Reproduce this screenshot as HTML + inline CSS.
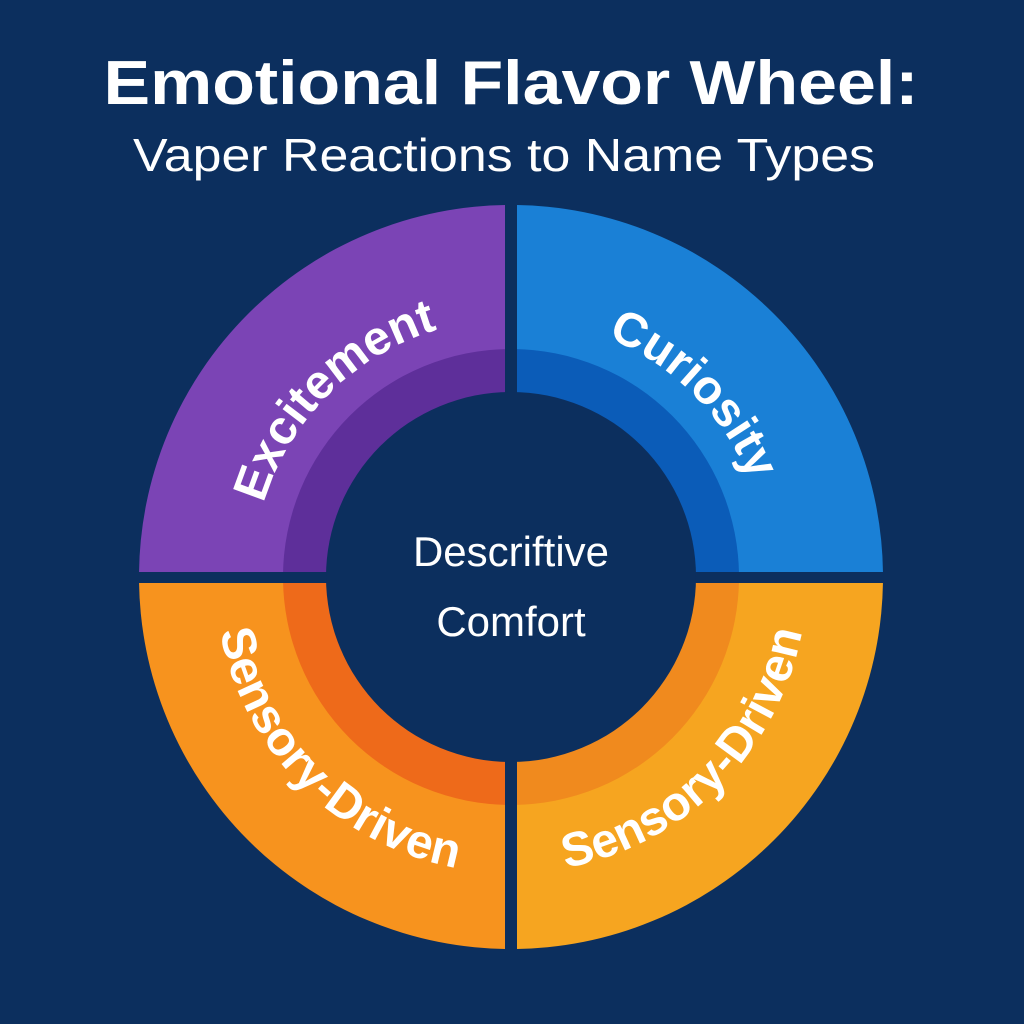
<!DOCTYPE html>
<html><head><meta charset="utf-8"><style>
html,body{margin:0;padding:0;background:#0c2f5e;}
svg{display:block}
</style></head><body>
<svg width="1024" height="1024" viewBox="0 0 1024 1024" xmlns="http://www.w3.org/2000/svg">
<rect width="1024" height="1024" fill="#0c2f5e"/>
<text x="511" y="104" text-anchor="middle" font-family="Liberation Sans, sans-serif" font-weight="bold" font-size="62" fill="#fff" textLength="815" lengthAdjust="spacingAndGlyphs">Emotional Flavor Wheel:</text>
<text x="504" y="171" text-anchor="middle" font-family="Liberation Sans, sans-serif" font-size="46" fill="#fff" textLength="742" lengthAdjust="spacingAndGlyphs">Vaper Reactions to Name Types</text>
<defs>
<clipPath id="tl"><rect x="0" y="0" width="505" height="572"/></clipPath>
<clipPath id="tr"><rect x="517" y="0" width="507" height="572"/></clipPath>
<clipPath id="bl"><rect x="0" y="583" width="505" height="441"/></clipPath>
<clipPath id="br"><rect x="517" y="583" width="507" height="441"/></clipPath>
<path id="pTL" d="M 253 577 A 258 258 0 0 1 511 319"/>
<path id="pTR" d="M 511 319 A 258 258 0 0 1 769 577"/>
<path id="pBL" d="M 215 577 A 296 296 0 0 0 511 873"/>
<path id="pBR" d="M 511 873 A 296 296 0 0 0 807 577"/>
</defs>
<g clip-path="url(#tl)"><circle cx="511" cy="577" r="372" fill="#7b44b5"/><circle cx="511" cy="577" r="228" fill="#5e2f9a"/></g>
<g clip-path="url(#tr)"><circle cx="511" cy="577" r="372" fill="#1a80d6"/><circle cx="511" cy="577" r="228" fill="#0b5cb8"/></g>
<g clip-path="url(#bl)"><circle cx="511" cy="577" r="372" fill="#f7931e"/><circle cx="511" cy="577" r="228" fill="#ee6a1a"/></g>
<g clip-path="url(#br)"><circle cx="511" cy="577" r="372" fill="#f6a520"/><circle cx="511" cy="577" r="228" fill="#f08a1e"/></g>
<circle cx="511" cy="577" r="185" fill="#0c2f5e"/>
<g font-family="Liberation Sans, sans-serif" font-weight="bold" font-size="48" fill="#fff">
<text><textPath href="#pTL" startOffset="50%" text-anchor="middle">Excitement</textPath></text>
<text><textPath href="#pTR" startOffset="50%" text-anchor="middle">Curiosity</textPath></text>
<text><textPath href="#pBL" startOffset="50%" text-anchor="middle">Sensory-Driven</textPath></text>
<text><textPath href="#pBR" startOffset="50%" text-anchor="middle">Sensory-Driven</textPath></text>
</g>
<g font-family="Liberation Sans, sans-serif" font-size="42" fill="#fff" text-anchor="middle">
<text x="511" y="566">Descriftive</text>
<text x="511" y="636">Comfort</text>
</g>
</svg>
</body></html>
